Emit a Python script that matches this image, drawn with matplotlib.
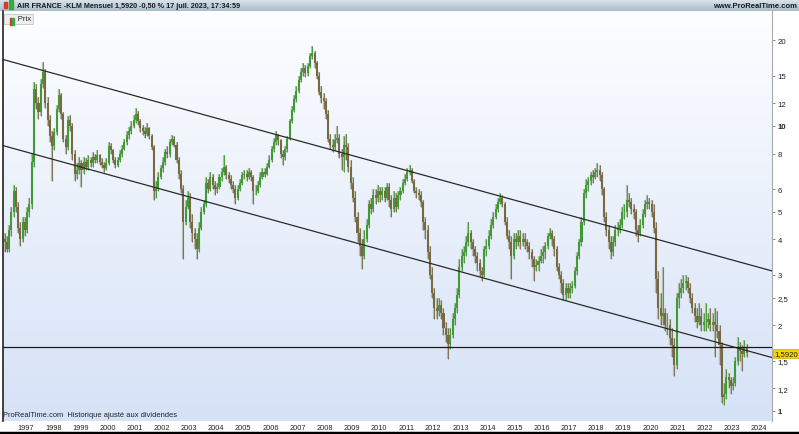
import numpy as np
import matplotlib
matplotlib.use('Agg')
import matplotlib.pyplot as plt
from matplotlib.colors import LinearSegmentedColormap
from matplotlib.patches import Rectangle
import matplotlib.transforms as mtransforms

plt.rcParams['font.family'] = ['Liberation Sans', 'DejaVu Sans']

# monthly candles, first one is March 1996, last one July 2023
start_year, start_month = 1996, 3
open0 = 4.0
close = [
    3.9, 3.7, 4.3, 5.0, 5.9, 5.2, 4.4, 4.0, 4.6, 4.3,                      # 1996
    5.0, 5.3, 7.5, 13.5, 12.0, 11.2, 14.0, 15.5, 12.0, 10.5, 9.2, 8.5,     # 1997
    9.5, 11.5, 12.8, 11.0, 9.0, 8.4, 10.5, 10.0, 8.0, 6.8, 7.0, 7.4,       # 1998
    7.0, 7.5, 7.2, 7.6, 7.4, 7.8, 7.6, 7.9, 7.5, 7.3, 7.1, 7.4,            # 1999
    8.5, 8.2, 7.6, 7.3, 7.6, 8.0, 8.3, 8.8, 9.3, 9.6, 10.0, 10.5,          # 2000
    11.0, 10.4, 9.8, 9.6, 9.4, 9.8, 9.2, 8.4, 5.9, 6.0, 6.6, 7.1,          # 2001
    7.5, 8.1, 8.0, 8.8, 9.0, 8.6, 7.6, 6.8, 6.0, 4.6, 5.2, 5.6,            # 2002
    4.6, 4.2, 4.0, 3.7, 4.4, 5.0, 5.3, 6.3, 6.0, 6.6, 6.2, 6.0,            # 2003
    6.1, 6.6, 6.9, 7.2, 6.7, 6.5, 6.2, 6.0, 5.6, 6.0, 6.3, 6.7,            # 2004
    6.8, 6.6, 6.9, 6.6, 5.9, 5.9, 6.2, 6.6, 6.9, 6.8, 7.2, 7.6,            # 2005
    8.3, 8.8, 9.3, 8.9, 8.0, 7.8, 8.3, 9.0, 10.4, 11.4, 12.4, 13.3,        # 2006
    14.5, 15.5, 16.0, 15.3, 16.2, 17.6, 18.0, 16.6, 15.0, 13.2, 12.5, 12.2,  # 2007
    11.0, 9.0, 8.6, 8.4, 8.9, 9.1, 8.0, 7.8, 8.6, 8.4, 7.2, 6.3,           # 2008
    5.6, 4.8, 4.2, 3.8, 3.5, 4.0, 4.5, 5.3, 5.1, 5.7, 5.6, 5.9,            # 2009
    5.7, 5.9, 5.6, 6.1, 5.5, 5.1, 5.6, 5.2, 5.7, 5.9, 6.3, 6.5,            # 2010
    6.9, 7.0, 6.4, 5.9, 5.8, 5.7, 5.4, 4.6, 4.3, 3.6, 3.0, 2.6,            # 2011
    2.3, 2.25, 2.35, 2.2, 1.95, 1.85, 1.72, 1.85, 2.1, 2.3, 2.55, 3.2,     # 2012
    3.5, 3.6, 3.9, 4.2, 3.9, 3.7, 3.5, 3.3, 3.1, 3.0, 3.7, 3.8,            # 2013
    4.1, 4.5, 4.8, 5.1, 5.4, 5.6, 5.3, 4.6, 4.1, 3.9, 3.5, 4.0,            # 2014
    3.9, 4.1, 3.9, 4.0, 3.9, 3.8, 3.6, 3.4, 3.2, 3.25, 3.35, 3.5,          # 2015
    3.6, 3.8, 4.1, 4.2, 4.0, 3.7, 3.2, 3.0, 2.8, 2.55, 2.7, 2.6,           # 2016
    2.7, 2.75, 3.1, 3.5, 3.9, 4.6, 5.8, 6.2, 6.4, 6.7, 6.6, 6.9,           # 2017
    7.0, 6.7, 6.0, 4.8, 4.3, 3.9, 3.6, 3.9, 4.3, 4.4, 4.5, 5.0,            # 2018
    5.0, 5.5, 5.4, 5.1, 5.0, 4.3, 4.2, 4.5, 4.9, 5.3, 5.4, 5.3,            # 2019
    5.0, 4.4, 2.9, 2.3, 2.15, 2.2, 2.0, 2.0, 1.8, 1.7, 1.45, 2.5,          # 2020
    2.6, 2.7, 2.8, 2.85, 2.7, 2.5, 2.3, 2.15, 2.05, 2.15, 2.0, 2.05,       # 2021
    2.05, 2.1, 2.0, 2.05, 2.0, 1.9, 1.7, 1.12, 1.15, 1.32, 1.28, 1.22,     # 2022
    1.25, 1.50, 1.68, 1.62, 1.58, 1.66, 1.592,                            # 2023
]
high = [
    4.2, 4.1, 4.5, 5.2, 6.2, 6.1, 5.4, 4.6, 4.8, 4.8,
    5.2, 5.6, 8.0, 14.2, 14.0, 12.6, 14.6, 16.8, 15.8, 12.6, 10.9, 9.6,
    9.8, 11.8, 13.5, 13.0, 11.2, 9.3, 10.8, 10.9, 10.2, 8.2, 7.4, 7.8,
    7.6, 7.8, 7.7, 7.9, 7.8, 8.1, 8.0, 8.2, 8.0, 7.7, 7.5, 7.7,
    8.8, 8.7, 8.3, 7.8, 7.8, 8.2, 8.6, 9.0, 9.6, 9.9, 10.4, 10.9,
    11.6, 11.3, 10.6, 10.1, 9.9, 10.2, 9.9, 9.4, 8.6, 6.4, 6.9, 7.3,
    7.8, 8.3, 8.5, 9.0, 9.3, 9.2, 8.8, 7.8, 7.0, 6.2, 5.5, 5.9,
    5.8, 4.9, 4.4, 4.2, 4.6, 5.2, 5.5, 6.6, 6.5, 6.9, 6.8, 6.4,
    6.3, 6.8, 7.1, 7.9, 7.3, 6.9, 6.7, 6.4, 6.2, 6.2, 6.5, 6.9,
    7.0, 7.0, 7.1, 7.0, 6.7, 6.2, 6.4, 6.9, 7.1, 7.1, 7.4, 7.9,
    8.5, 9.1, 9.6, 9.4, 9.0, 8.2, 8.5, 9.2, 10.6, 11.7, 12.8, 13.8,
    15.0, 16.0, 16.6, 16.3, 16.6, 18.0, 19.0, 18.3, 16.9, 15.4, 13.8, 13.0,
    12.5, 11.4, 9.4, 9.0, 9.4, 10.0, 9.4, 8.3, 9.2, 9.4, 8.7, 7.6,
    6.6, 5.9, 5.0, 4.4, 4.0, 4.3, 4.7, 5.5, 5.6, 6.0, 6.0, 6.2,
    6.1, 6.1, 6.1, 6.3, 6.3, 5.7, 5.9, 5.8, 5.9, 6.1, 6.5, 6.8,
    7.1, 7.3, 7.1, 6.5, 6.1, 6.0, 5.9, 5.5, 4.8, 4.5, 3.8, 3.2,
    2.7, 2.5, 2.5, 2.45, 2.3, 2.05, 1.95, 1.95, 2.2, 2.4, 2.7, 3.4,
    3.7, 3.8, 4.1, 4.6, 4.3, 4.0, 3.8, 3.6, 3.4, 3.2, 3.8, 4.0,
    4.3, 4.7, 5.0, 5.3, 5.6, 5.8, 5.7, 5.4, 4.8, 4.3, 4.1, 4.2,
    4.2, 4.3, 4.3, 4.2, 4.2, 4.0, 3.9, 3.7, 3.5, 3.4, 3.5, 3.7,
    3.8, 3.9, 4.2, 4.4, 4.3, 4.1, 3.8, 3.3, 3.1, 2.9, 2.8, 2.8,
    2.8, 2.85, 3.2, 3.6, 4.0, 4.8, 6.0, 6.5, 6.6, 6.9, 7.0, 7.1,
    7.4, 7.3, 6.9, 6.1, 5.0, 4.5, 4.1, 4.1, 4.5, 4.6, 4.7, 5.2,
    5.3, 6.2, 5.8, 5.6, 5.3, 5.1, 4.5, 4.7, 5.1, 5.5, 5.7, 5.6,
    5.5, 5.3, 4.6, 3.1, 2.6, 3.2, 2.3, 2.2, 2.1, 1.95, 1.8, 2.6,
    2.8, 2.9, 3.0, 3.0, 2.95, 2.8, 2.6, 2.4, 2.3, 2.4, 2.3, 2.2,
    2.4, 2.2, 2.3, 2.2, 2.3, 2.25, 2.0, 1.75, 1.25, 1.4, 1.36, 1.32,
    1.32, 1.55, 1.82, 1.74, 1.7, 1.78, 1.72,
]
low = [
    3.6, 3.6, 3.6, 4.1, 4.8, 5.0, 4.2, 3.8, 3.9, 4.1,
    4.2, 4.8, 5.1, 7.2, 11.5, 10.6, 10.8, 13.6, 11.6, 10.0, 8.8, 6.4,
    8.2, 9.3, 11.2, 10.6, 8.8, 8.0, 8.2, 9.6, 7.6, 6.4, 6.5, 6.8,
    6.1, 6.8, 7.0, 7.0, 7.2, 7.2, 7.4, 7.4, 7.3, 7.1, 6.9, 7.0,
    7.3, 8.0, 7.4, 7.1, 7.2, 7.5, 7.8, 8.2, 8.6, 9.0, 9.4, 9.8,
    10.2, 10.1, 9.5, 9.3, 9.1, 9.2, 9.0, 8.2, 5.5, 5.6, 5.9, 6.5,
    6.9, 7.3, 7.7, 7.8, 8.6, 8.4, 7.4, 6.5, 5.8, 3.4, 4.5, 5.1,
    4.4, 3.9, 3.7, 3.4, 3.6, 4.3, 4.9, 5.2, 5.8, 5.9, 6.0, 5.7,
    5.8, 6.0, 6.4, 6.7, 6.5, 6.3, 6.0, 5.8, 5.3, 5.5, 5.9, 6.2,
    6.5, 6.4, 6.5, 6.4, 5.3, 5.7, 5.8, 6.1, 6.5, 6.6, 6.7, 7.1,
    7.5, 8.1, 8.6, 8.6, 7.7, 7.3, 7.6, 8.1, 8.9, 10.2, 11.2, 12.1,
    13.0, 14.2, 15.0, 14.8, 15.0, 16.0, 17.2, 16.0, 14.6, 12.8, 12.0, 11.5,
    10.6, 8.8, 8.3, 8.1, 8.2, 8.7, 7.7, 7.0, 6.9, 7.6, 6.9, 6.0,
    5.4, 4.6, 3.9, 3.5, 3.15, 3.4, 3.9, 4.4, 4.9, 5.0, 5.3, 5.4,
    5.4, 5.5, 5.4, 5.5, 5.2, 4.8, 5.0, 5.0, 5.1, 5.5, 5.8, 6.2,
    6.4, 6.7, 6.3, 5.8, 5.6, 5.5, 5.2, 4.3, 4.0, 3.4, 2.9, 2.5,
    2.1, 2.1, 2.15, 2.1, 1.85, 1.75, 1.52, 1.65, 1.8, 2.0, 2.2, 2.5,
    3.1, 3.3, 3.5, 3.8, 3.7, 3.5, 3.3, 3.1, 2.95, 2.85, 2.95, 3.5,
    3.7, 4.0, 4.4, 4.7, 5.0, 5.3, 5.2, 4.5, 4.0, 3.7, 2.9, 3.4,
    3.7, 3.8, 3.7, 3.8, 3.7, 3.6, 3.4, 3.2, 2.85, 3.1, 3.1, 3.3,
    3.3, 3.4, 3.7, 4.0, 3.8, 3.5, 3.1, 2.9, 2.6, 2.45, 2.45, 2.5,
    2.5, 2.6, 2.7, 3.0, 3.4, 3.8, 4.5, 5.6, 5.9, 6.2, 6.3, 6.5,
    6.6, 6.4, 5.7, 4.6, 4.1, 3.7, 3.4, 3.5, 3.8, 4.1, 4.2, 4.4,
    4.7, 4.8, 5.2, 4.9, 4.7, 4.1, 3.9, 4.1, 4.4, 4.8, 5.1, 5.1,
    4.8, 4.2, 2.6, 2.1, 2.0, 2.0, 1.9, 1.85, 1.7, 1.55, 1.33, 1.4,
    2.3, 2.5, 2.6, 2.65, 2.6, 2.4, 2.2, 2.05, 1.95, 2.0, 1.9, 1.9,
    1.9, 1.95, 1.9, 1.9, 1.55, 1.8, 1.45, 1.07, 1.05, 1.1, 1.2, 1.15,
    1.18, 1.22, 1.45, 1.5, 1.38, 1.55, 1.55,
]

# drawn lines (date in years, price)
upper_trend = ([1996.15, 2024.47], [17.1, 3.1])
lower_trend = ([1996.15, 2024.47], [8.53, 1.54])
support_level = 1.68
last_price = 1.592

y_ticks = [1, 1.2, 1.5, 2, 2.5, 3, 4, 5, 6, 8, 10, 12, 15, 20]
year_ticks = list(range(1997, 2025))

close = np.array(close)
high = np.array(high)
low = np.array(low)
opn = np.concatenate([[open0], close[:-1]])
n = len(close)
assert len(high) == n and len(low) == n
t = start_year + (start_month - 1 + np.arange(n)) / 12 + 1 / 24

fig = plt.figure(figsize=(7.99, 4.35), dpi=100)
W, H = 799, 435
px = lambda x0, y0, w, h: [x0 / W, 1 - (y0 + h) / H, w / W, h / H]

# header bar
hdr = fig.add_axes(px(0, 0, 799, 12))
hdr.imshow(np.linspace(0, 1, 50).reshape(-1, 1), aspect='auto', extent=[0, 1, 0, 1],
           cmap=LinearSegmentedColormap.from_list('h', ['#dde6ee', '#a9bccb']))
hdr.set_axis_off()
hdr.add_patch(Rectangle((4 / W, 0.25), 3 / W, 0.5, color='#d83a2a', transform=hdr.transAxes))
hdr.add_patch(Rectangle((9 / W, 0.15), 4 / W, 0.75, color='#3aa83a', transform=hdr.transAxes))
hdr.text(17 / W, 0.5, 'AIR FRANCE -KLM Mensuel 1,5920 -0,50 % 17 juil. 2023, 17:34:59',
         fontsize=5.25, fontweight='bold', color='#1a1a1a', va='center', ha='left')
hdr.text(797 / W, 0.5, 'www.ProRealTime.com', fontsize=5.5, fontweight='bold',
         color='#1a1a1a', va='center', ha='right')

# background gradient
bg = fig.add_axes(px(3, 12, 769, 410))
bg.imshow(np.linspace(0, 1, 256).reshape(-1, 1), aspect='auto', extent=[0, 1, 0, 1],
          cmap=LinearSegmentedColormap.from_list('bg', ['#fdfeff', '#d6e2f7']))
bg.set_axis_off()

ax = fig.add_axes(px(3, 12, 769, 410))
ax.patch.set_visible(False)
ax.set_yscale('log')

up = close >= opn
body_lo = np.minimum(opn, close)
body_hi = np.maximum(opn, close)
ax.vlines(t, low, high, color='#b3bfae', lw=1.6, zorder=2)
ax.vlines(t[up], low[up], high[up], color='#4f9a40', lw=0.7, zorder=2)
ax.vlines(t[~up], low[~up], high[~up], color='#7f7259', lw=0.7, zorder=2)
ax.bar(t[up], body_hi[up] - body_lo[up], bottom=body_lo[up], width=0.075,
       color='#3f9c34', lw=0, zorder=3)
ax.bar(t[~up], body_hi[~up] - body_lo[~up], bottom=body_lo[~up], width=0.075,
       color='#7a6843', lw=0, zorder=3)

ax.plot(*upper_trend, color='#2a2a2a', lw=0.9, zorder=4)
ax.plot(*lower_trend, color='#2a2a2a', lw=0.9, zorder=4)
ax.axhline(support_level, color='#1a1a1a', lw=0.9, zorder=4)

ax.set_xlim(1996.151, 2024.475)
ax.set_ylim(0.922, 25.3)

ax.yaxis.tick_right()
ax.set_yticks(y_ticks)
ax.set_yticklabels([('%g' % v).replace('.', ',') for v in y_ticks])
ax.minorticks_off()
for lab, v in zip(ax.get_yticklabels(), y_ticks):
    if v in (1, 10):
        lab.set_fontweight('bold')
ax.tick_params(axis='y', direction='out', length=2.5, width=0.6, color='#777777',
               labelsize=5.6, pad=1.5, labelcolor='#222222')
ax.set_xticks(year_ticks)
ax.set_xticklabels([str(y) for y in year_ticks])
ax.tick_params(axis='x', length=0, labelsize=5.3, pad=2.5, labelcolor='#222222')

for s in ['top', 'bottom']:
    ax.spines[s].set_visible(False)
ax.spines['left'].set_color('#222222')
ax.spines['left'].set_linewidth(1.2)
ax.spines['right'].set_color('#aaaaaa')
ax.spines['right'].set_linewidth(0.8)

# last price tag
trans = mtransforms.blended_transform_factory(ax.transAxes, ax.transData)
ax.text(1.003, last_price, '1,5920', transform=trans, fontsize=5.6, va='center', ha='left',
        color='#222222', zorder=6, clip_on=False,
        bbox=dict(boxstyle='square,pad=0.15', fc='#f4d400', ec='#c9a800', lw=0.5))

# legend box
ax.text(0.003, 0.99, '      Prix', transform=ax.transAxes, fontsize=5.6, va='top', ha='left',
        color='#222222', bbox=dict(boxstyle='square,pad=0.2', fc='#eeeeee', ec='#bbbbbb', lw=0.5))
ax.add_patch(Rectangle((0.0085, 0.966), 0.003, 0.018, color='#d83a2a', transform=ax.transAxes, zorder=7))
ax.add_patch(Rectangle((0.0115, 0.966), 0.003, 0.018, color='#3aa83a', transform=ax.transAxes, zorder=7))

ax.text(0.0, 0.008, 'ProRealTime.com  Historique ajusté aux dividendes', transform=ax.transAxes,
        fontsize=5.4, va='bottom', ha='left', color='#222222')

# bottom border line
fig.add_artist(plt.Line2D([0, 1], [1.5 / H, 1.5 / H], color='black', lw=2.5))

fig.savefig('out.png', dpi=100)
